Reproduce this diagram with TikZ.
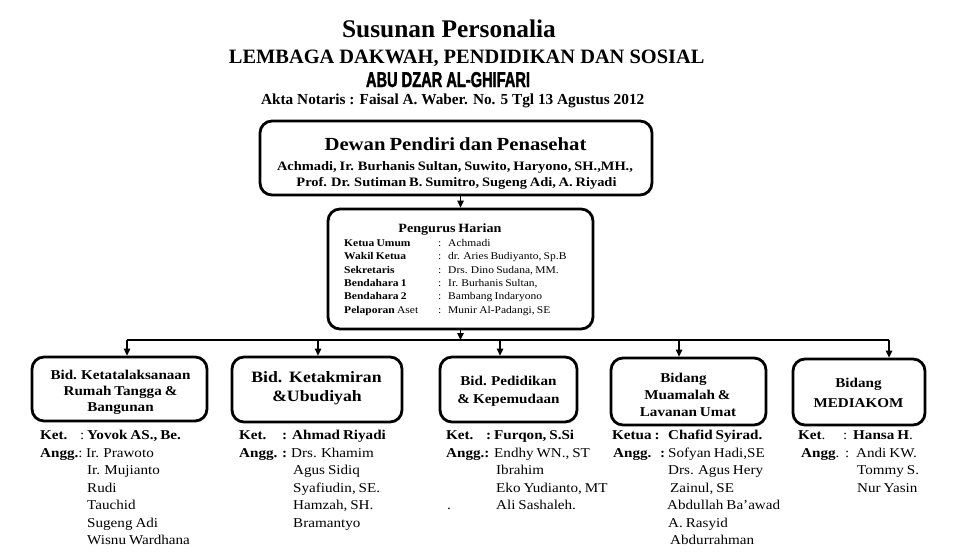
\documentclass[tikz,border=0pt]{standalone}
\usepackage{fontspec}
\setmainfont{Liberation Serif}
\newfontfamily\wf[FakeStretch=1.12, WordSpace=0.78]{Liberation Serif}
\newfontfamily\condf[FakeStretch=0.68, BoldFeatures={FakeBold=1.6}]{Liberation Sans}
\usetikzlibrary{arrows.meta}
\newcommand\myfs[1]{\fontsize{#1}{#1}\selectfont}
\begin{document}
\begin{tikzpicture}[x=1pt,y=-1pt,
  box/.style={draw, line width=2.8pt, rounded corners=12pt, inner sep=0pt},
  ctr/.style={anchor=base, inner sep=0pt},
  lst/.style={anchor=base west, inner sep=0pt, font=\wf\myfs{13.5}},
  bt/.style={anchor=base, inner sep=0pt, font=\wf\bfseries\myfs{13.5}},
  ph/.style={anchor=base west, inner sep=0pt, font=\wf\myfs{10.3}},
  conn/.style={line width=1.3pt},
  arr/.style={line width=1.3pt, -{Triangle[length=7pt,width=6.5pt]}}]
\useasboundingbox (0,0) rectangle (953,558);
\fill[white] (0,0) rectangle (953,558);

% Titles
\node[ctr, font=\bfseries\myfs{25.4}] (title) at (449,37) {Susunan Personalia};
\node[ctr, font=\bfseries\myfs{20.4}] (sub1) at (466.7,63) {LEMBAGA DAKWAH, PENDIDIKAN DAN SOSIAL};
\node[ctr, font=\condf\bfseries\myfs{21.5}] (sub2) at (448,87) {ABU DZAR AL-GHIFARI};
\node[ctr, font=\bfseries\myfs{15.3}] (sub3) at (452.7,104) {Akta Notaris : Faisal A. Waber. No. 5 Tgl 13 Agustus 2012};

% Boxes
\node[box, minimum width=392pt, minimum height=74pt] (top) at (456,158) {};
\node[box, minimum width=265pt, minimum height=120pt] (phb) at (460.5,269) {};
\node[box, minimum width=175pt, minimum height=64pt] (b1) at (119.5,389) {};
\node[box, minimum width=170pt, minimum height=65pt] (b2) at (317,389.5) {};
\node[box, minimum width=137pt, minimum height=65pt] (b3) at (508.5,389.5) {};
\node[box, minimum width=155pt, minimum height=67pt] (b4) at (688.5,391.5) {};
\node[box, minimum width=132pt, minimum height=66pt] (b5) at (859,392) {};

% Top box text
\node[ctr, font=\wf\bfseries\myfs{18.5}] (t1) at (455.5,150) {Dewan Pendiri dan Penasehat};
\node[ctr, font=\wf\bfseries\myfs{12.9}] (t2) at (455,170) {Achmadi, Ir. Burhanis Sultan, Suwito, Haryono, SH.,MH.,};
\node[ctr, font=\wf\bfseries\myfs{12.9}] (t3) at (456.5,186) {Prof. Dr. Sutiman B. Sumitro, Sugeng Adi, A. Riyadi};

% Pengurus Harian
\node[ctr, font=\wf\bfseries\myfs{12.6}] (p0) at (450,232) {Pengurus Harian};
\foreach \lab/\val/\yy [count=\i] in {
  {\bfseries Ketua Umum}/{Achmadi}/246.5,
  {\bfseries Wakil Ketua}/{dr. Aries Budiyanto, Sp.B}/259.8,
  {\bfseries Sekretaris}/{Drs. Dino Sudana, MM.}/273,
  {\bfseries Bendahara 1}/{Ir. Burhanis Sultan,}/286.3,
  {\bfseries Bendahara 2}/{Bambang Indaryono}/299.6,
  {{\bfseries Pelaporan} Aset}/{Munir Al-Padangi, SE}/313}{
  \node[ph] (pl\i) at (344,\yy) {\lab};
  \node[ph] (pc\i) at (438,\yy) {:};
  \node[ph] (pv\i) at (448,\yy) {\val};
}

% Connectors
\coordinate (d1) at (127,340);
\coordinate (d2) at (318,340);
\coordinate (d3) at (500,340);
\coordinate (d4) at (679,340);
\coordinate (d5) at (889,340);
\draw[arr] (phb.north |- top.south) -- (phb.north);
\draw[conn] (d1) -- (d5);
\draw[arr] (phb.south) -- (phb.south |- d1);
\draw[arr] (d1) -- (d1 |- b1.north);
\draw[arr] (d2) -- (d2 |- b2.north);
\draw[arr] (d3) -- (d3 |- b3.north);
\draw[arr] (d4) -- (d4 |- b4.north);
\draw[arr] (d5) -- (d5 |- b5.north);

% Box 1
\node[bt] (b1t1) at (120.5,379.3) {Bid. Ketatalaksanaan};
\node[bt] (b1t2) at (120.5,395.7) {Rumah Tangga \&};
\node[bt] (b1t3) at (120.5,411.7) {Bangunan};
\node[lst, font=\wf\bfseries\myfs{13.5}] (k1) at (40,439.5) {Ket.};
\node[lst] (k1c) at (80,439.5) {:};
\node[lst, font=\wf\bfseries\myfs{13.5}] (k1n) at (87,439.5) {Yovok AS., Be.};
\node[lst] (a1) at (40,457) {{\bfseries Angg.}:};
\node[lst] (a1n) at (86,457) {Ir. Prawoto};
\node[lst] (a1b) at (87,474.5) {Ir. Mujianto};
\node[lst] (a1c) at (87,492) {Rudi};
\node[lst] (a1d) at (87,509.5) {Tauchid};
\node[lst] (a1e) at (87,527) {Sugeng Adi};
\node[lst] (a1f) at (87,544.5) {Wisnu Wardhana};

% Box 2
\node[bt, font=\wf\bfseries\myfs{15.8}] (b2t1) at (316.5,382.3) {Bid.\ \ Ketakmiran};
\node[bt, font=\wf\bfseries\myfs{15.8}] (b2t2) at (317,401.7) {\&Ubudiyah};
\node[lst, font=\wf\bfseries\myfs{13.5}] (k2) at (239,439.5) {Ket.};
\node[lst, font=\wf\bfseries\myfs{13.5}] (k2c) at (282,439.5) {:};
\node[lst, font=\wf\bfseries\myfs{13.5}] (k2n) at (292,439.5) {Ahmad Riyadi};
\node[lst, font=\wf\bfseries\myfs{13.5}] (a2) at (239,457) {Angg.};
\node[lst, font=\wf\bfseries\myfs{13.5}] (a2c) at (282,457) {:};
\node[lst] (a2n) at (291,457) {Drs. Khamim};
\node[lst] (a2b) at (293,474.5) {Agus Sidiq};
\node[lst] (a2c2) at (293,492) {Syafiudin, SE.};
\node[lst] (a2d) at (293,509.5) {Hamzah, SH.};
\node[lst] (a2e) at (293,527) {Bramantyo};

% Box 3
\node[bt] (b3t1) at (508.5,385) {Bid. Pedidikan};
\node[bt] (b3t2) at (508.5,403) {\& Kepemudaan};
\node[lst, font=\wf\bfseries\myfs{13.5}] (k3) at (446,439.5) {Ket.};
\node[lst, font=\wf\bfseries\myfs{13.5}] (k3c) at (486,439.5) {:};
\node[lst, font=\wf\bfseries\myfs{13.5}] (k3n) at (494,439.5) {Furqon, S.Si};
\node[lst, font=\wf\bfseries\myfs{13.5}] (a3) at (446,457) {Angg.:};
\node[lst] (a3n) at (494,457) {Endhy WN., ST};
\node[lst] (a3b) at (496,474.5) {Ibrahim};
\node[lst] (a3c) at (496,492) {Eko Yudianto, MT};
\node[lst] (a3dot) at (447,509.5) {.};
\node[lst] (a3d) at (496,509.5) {Ali Sashaleh.};

% Box 4
\node[bt] (b4t1) at (683.5,382) {Bidang};
\node[bt] (b4t2) at (687.5,399) {Muamalah \&};
\node[bt] (b4t3) at (688,416) {Lavanan Umat};
\node[lst, font=\wf\bfseries\myfs{13.5}] (k4) at (612,439.5) {Ketua :};
\node[lst, font=\wf\bfseries\myfs{13.5}] (k4n) at (668,439.5) {Chafid Syirad.};
\node[lst, font=\wf\bfseries\myfs{13.5}] (a4) at (613,457) {Angg.};
\node[lst, font=\wf\bfseries\myfs{13.5}] (a4c) at (660,457) {:};
\node[lst] (a4n) at (668,457) {Sofyan Hadi,SE};
\node[lst] (a4b) at (668,474.5) {Drs. Agus Hery};
\node[lst] (a4c2) at (670,492) {Zainul, SE};
\node[lst] (a4d) at (667,509.5) {Abdullah Ba’awad};
\node[lst] (a4e) at (668,527) {A. Rasyid};
\node[lst] (a4f) at (670,544.5) {Abdurrahman};

% Box 5
\node[bt] (b5t1) at (858.5,387) {Bidang};
\node[bt] (b5t2) at (858.5,407) {MEDIAKOM};
\node[lst] (k5) at (798,439.5) {{\bfseries Ket}.};
\node[lst] (k5c) at (843,439.5) {:};
\node[lst] (k5n) at (853,439.5) {{\bfseries Hansa H}.};
\node[lst] (a5) at (801,457) {{\bfseries Angg}.};
\node[lst] (a5c) at (845,457) {:};
\node[lst] (a5n) at (856,457) {Andi KW.};
\node[lst] (a5b) at (857,474.5) {Tommy S.};
\node[lst] (a5c2) at (857,492) {Nur Yasin};
\end{tikzpicture}
\end{document}
